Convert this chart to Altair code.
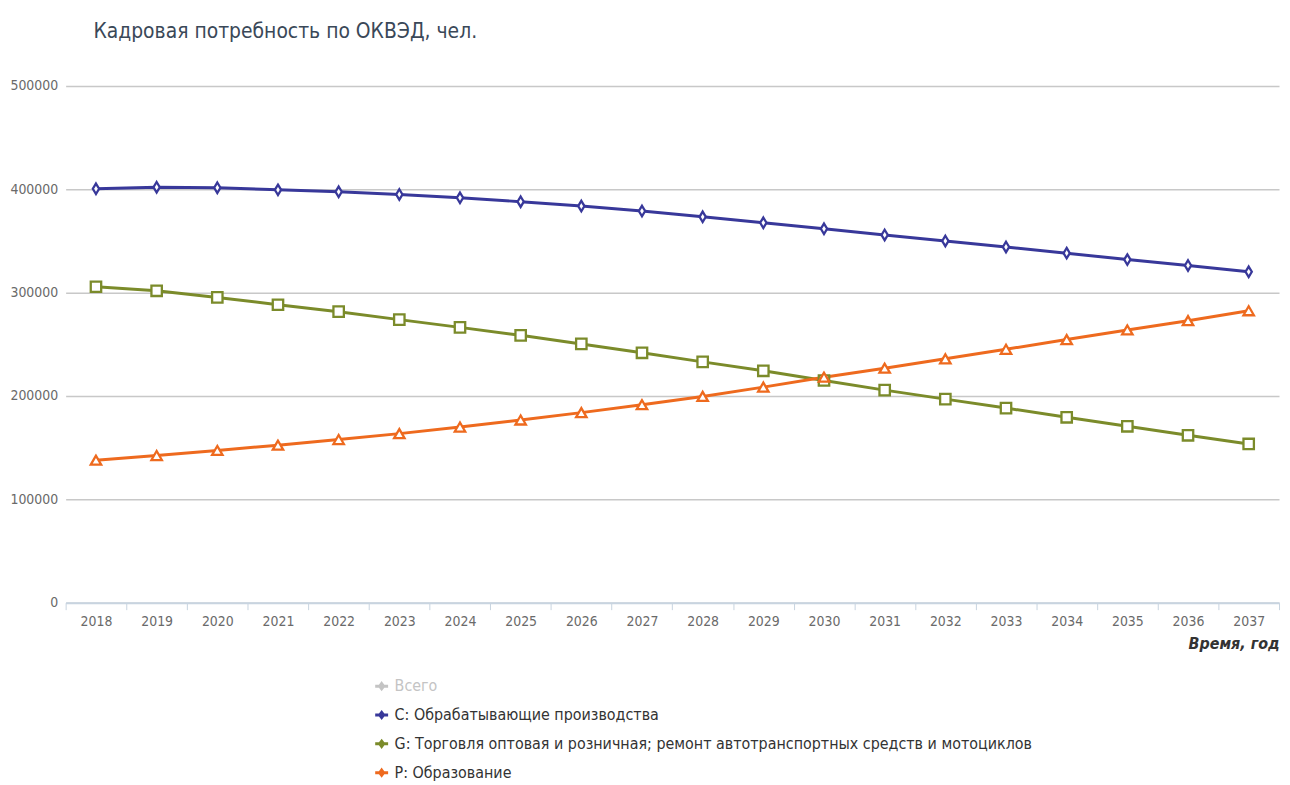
import altair as alt
import pandas as pd

years = [str(y) for y in range(2018, 2038)]
series_c = [400500, 402000, 401500, 399500, 397600, 395000, 391800, 388000, 383800, 379000,
            373400, 367600, 361800, 355800, 350000, 344200, 338200, 332000, 326300, 320200]
series_g = [305700, 301800, 295400, 288300, 281600, 273900, 266400, 258700, 250400, 241800,
            233000, 224400, 215000, 205700, 197000, 188300, 179400, 170700, 162000, 153600]
series_p = [137900, 142400, 147300, 152400, 157900, 163600, 170000, 176800, 183900, 191600,
            199600, 208600, 218200, 226900, 236000, 245200, 254600, 263900, 272900, 282500]

names = ["Всего",
         "C: Обрабатывающие производства",
         "G: Торговля оптовая и розничная; ремонт автотранспортных средств и мотоциклов",
         "P: Образование"]
colors = ["#c4c4c4", "#38389a", "#7b8b2a", "#ee6a1e"]
shapes = ["circle", "M0,-1L0.6,0L0,1L-0.6,0Z", "square", "triangle-up"]

rows = []
for name, vals in zip(names[1:], [series_c, series_g, series_p]):
    for y, v in zip(years, vals):
        rows.append({"year": y, "value": v, "series": name, "marker": name})
df = pd.DataFrame(rows)

FONT = "DejaVu Sans Condensed, Liberation Sans Narrow, sans-serif"

x_enc = alt.X("year:O",
              scale=alt.Scale(type="band", paddingInner=0, paddingOuter=0),
              axis=alt.Axis(title="Время, год", labelAngle=0, labelFontSize=14,
                            labelColor="#6a6a6a", labelFont=FONT, labelPadding=5,
                            tickBand="extent", tickColor="#c8d4e0", tickSize=7, tickWidth=1,
                            domainColor="#c8d4e0", domainWidth=2, grid=False,
                            titleAnchor="end", titleAlign="right", titleFontSize=16,
                            titleFontStyle="italic", titleFontWeight="bold",
                            titleColor="#333333", titleFont=FONT, titlePadding=7))
y_enc = alt.Y("value:Q",
              scale=alt.Scale(domain=[0, 500000]),
              axis=alt.Axis(title=None, values=[0, 100000, 200000, 300000, 400000, 500000],
                            format="d", labelFontSize=14, labelColor="#6a6a6a",
                            labelFont=FONT, labelPadding=8, ticks=False, domain=False,
                            gridColor="#c8c8c8", gridWidth=1.5))
color_enc = alt.Color("series:N",
                      scale=alt.Scale(domain=names, range=colors),
                      sort=names,
                      legend=alt.Legend(title=None, orient="none", legendX=310, legendY=596,
                                        direction="vertical", labelFontSize=16,
                                        labelFont=FONT,
                                        labelColor={"expr": "datum.value === 'Всего' ? '#c4c4c4' : '#333333'"},
                                        symbolType="M-1,0L1,0M0,-0.4L0.3,0L0,0.4L-0.3,0Z",
                                        symbolSize=169, symbolStrokeWidth=3,
                                        rowPadding=11, labelOffset=5, padding=0,
                                        labelLimit=900,
                                        values=names))

base = alt.Chart(df)
lines = base.mark_line(strokeWidth=3).encode(x=x_enc, y=y_enc, color=color_enc)
points = base.mark_point(filled=False, fill="white", fillOpacity=1, strokeWidth=2.3, size=110, opacity=1).encode(
    x=x_enc, y=y_enc,
    stroke=alt.Stroke("marker:N", scale=alt.Scale(domain=names, range=colors), legend=None),
    shape=alt.Shape("marker:N", scale=alt.Scale(domain=names, range=shapes), legend=None))

chart = alt.layer(lines, points).resolve_legend(color="independent", shape="independent", stroke="independent").properties(
    width=1221, height=520,
    autosize=alt.AutoSizeParams(type="none"),
    padding={"left": 58, "top": 76, "right": 3, "bottom": 180},
    title=alt.Title("Кадровая потребность по ОКВЭД, чел.", anchor="start", dx=84,
                    fontSize=21, font=FONT, fontWeight="normal", color="#3a4858", offset=37)
).configure_view(stroke=None)

chart.save("out.html", embed_options={"renderer": "svg", "actions": False})
